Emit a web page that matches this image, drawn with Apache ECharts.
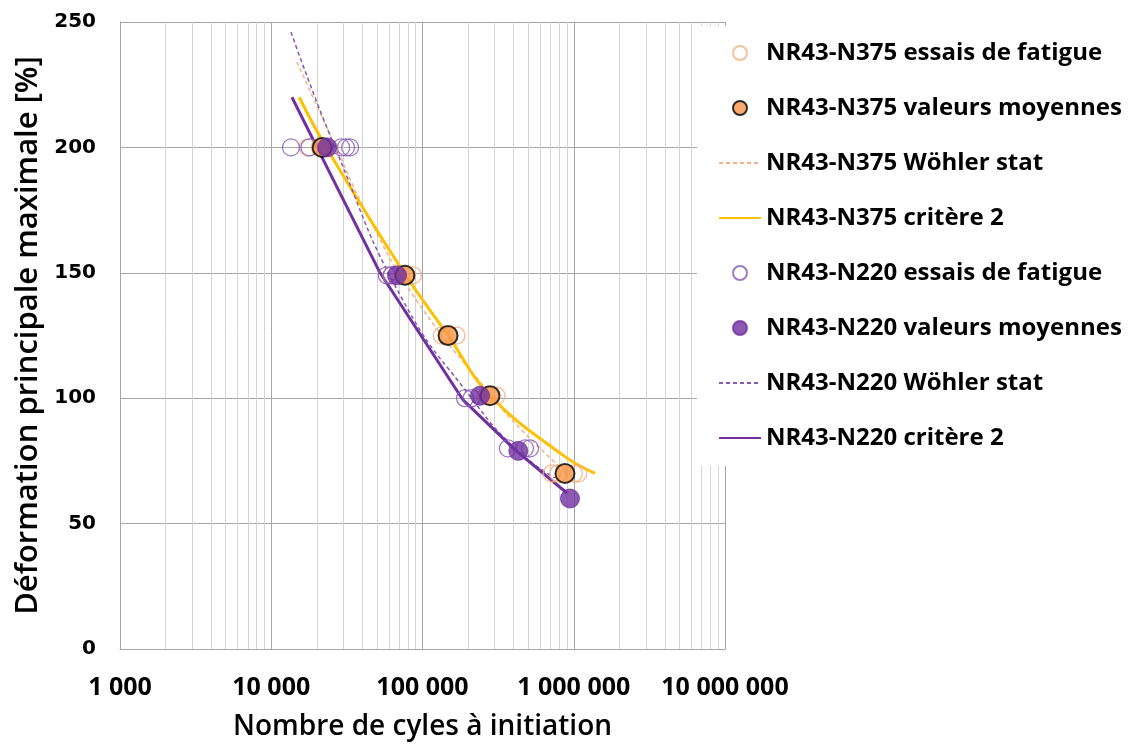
<!DOCTYPE html>
<html>
<head>
<meta charset="utf-8">
<script src="https://cdn.jsdelivr.net/npm/echarts@6/dist/echarts.min.js"></script>
<style>
html,body{margin:0;padding:0;background:#fff;}
#chart{width:1133px;height:744px;}
</style>
</head>
<body>
<div id="chart"></div>
<script>
// ---- data ----
const seriesNames = [
  'NR43-N375 essais de fatigue',
  'NR43-N375 valeurs moyennes',
  'NR43-N375 Wöhler stat',
  'NR43-N375 critère 2',
  'NR43-N220 essais de fatigue',
  'NR43-N220 valeurs moyennes',
  'NR43-N220 Wöhler stat',
  'NR43-N220 critère 2'
];
const xTickValues = [1000, 10000, 100000, 1000000, 10000000];
const yTickValues = [0, 50, 100, 150, 200, 250];
const minorMultipliers = [2, 3, 4, 5, 6, 7, 8, 9];

const n375TestN = [17500, 21000, 24000, 62500, 78600, 86500, 134000, 150000, 168000, 265000, 309000, 715000, 790000, 1000000, 1070000];
const n375TestE = [200, 200, 200, 149, 149, 149, 125, 125, 125, 101, 101, 70, 70, 70, 70];
const n375MeanN = [21700, 76500, 147500, 279500, 875000];
const n375MeanE = [200, 149, 125, 101, 70];
const n375WohlerN = [14800, 26800, 45000, 91400, 294500, 441000, 875000];
const n375WohlerE = [234, 200, 171, 139, 100, 88, 70.6];
const n375CritN = [15300, 23100, 75500, 147800, 279500, 875000, 1382000];
const n375CritE = [220, 200, 150, 125, 101, 76.7, 70];

const n220TestN = [13500, 17900, 29000, 31200, 33200, 58000, 62600, 191000, 211000, 367000, 476000, 514000];
const n220TestE = [200, 200, 200, 200, 200, 149, 149, 100, 100, 80, 80, 80];
const n220MeanN = [23400, 67800, 240000, 430000, 944000];
const n220MeanE = [200, 149, 101, 79, 60];
const n220WohlerN = [13500, 26400, 74300, 211000, 420000, 751000];
const n220WohlerE = [246, 200, 139, 100, 79.4, 68.2];
const n220CritN = [13700, 20070, 52400, 185300, 409000, 901000];
const n220CritE = [220, 200, 150, 99.3, 79.4, 62.2];

// ---- build ----
const pairs = (xs, ys) => xs.map((x, i) => [x, ys[i]]);
const minorTicks = [];
xTickValues.slice(0, -1).forEach(d => minorMultipliers.forEach(m => minorTicks.push(d * m)));

const ORANGE_LIGHT = '#f4b183';
const ORANGE = '#f79646';
const GOLD = '#ffc000';
const PURPLE = '#7030a0';
const PURPLE_LIGHT = '#8459b4';

const fmtThousands = v => String(Math.round(v)).replace(/\B(?=(\d{3})+(?!\d))/g, ' ');
const noDot = {opacity: 0};

const chart = echarts.init(document.getElementById('chart'), null, {renderer: 'canvas'});
chart.setOption({
  animation: false,
  backgroundColor: '#fff',
  grid: {left: 120, top: 22, right: 408, bottom: 95, containLabel: false, outerBoundsMode: 'none'},
  xAxis: {
    type: 'log', logBase: 10, min: xTickValues[0], max: xTickValues[xTickValues.length - 1],
    name: 'Nombre de cyles à initiation', nameLocation: 'middle', nameGap: 64,
    nameTextStyle: {fontFamily: 'Open Sans', fontWeight: 600, fontSize: 28, color: '#000'},
    axisLine: {show: true, lineStyle: {color: '#a6a6a6', width: 1}},
    axisTick: {show: false},
    axisLabel: {
      margin: 26, color: '#000', fontFamily: 'Open Sans', fontWeight: 'bold', fontSize: 25,
      formatter: fmtThousands, showMinLabel: true, showMaxLabel: true
    },
    splitLine: {show: true, lineStyle: {color: '#a6a6a6', width: 1}},
    minorTick: {show: false}, minorSplitLine: {show: false}
  },
  yAxis: {
    type: 'value', min: yTickValues[0], max: yTickValues[yTickValues.length - 1], interval: 50,
    name: 'Déformation principale maximale [%]', nameLocation: 'middle', nameGap: 67,
    nameTextStyle: {fontFamily: 'Open Sans', fontWeight: 600, fontSize: 31, color: '#000'},
    axisLine: {show: true, lineStyle: {color: '#a6a6a6', width: 1}},
    axisTick: {show: false},
    axisLabel: {margin: 24, color: '#000', fontFamily: 'DejaVu Sans', fontWeight: 'bold', fontSize: 20},
    splitLine: {show: true, lineStyle: {color: '#a6a6a6', width: 1}}
  },
  legend: {
    orient: 'vertical', left: 697, top: 26,
    padding: [14, 4, 15, 21],
    backgroundColor: '#fff',
    itemWidth: 42, itemHeight: 14, itemGap: 29,
    textStyle: {fontFamily: 'Open Sans', fontWeight: 'bold', fontSize: 24, color: '#000', lineHeight: 26},
    selectedMode: false,
    data: [
      {name: seriesNames[0], icon: 'circle'},
      {name: seriesNames[1], icon: 'circle'},
      {name: seriesNames[2], itemStyle: noDot},
      {name: seriesNames[3], itemStyle: noDot},
      {name: seriesNames[4], icon: 'circle'},
      {name: seriesNames[5], icon: 'circle'},
      {name: seriesNames[6], itemStyle: noDot},
      {name: seriesNames[7], itemStyle: noDot}
    ]
  },
  series: [
    {
      name: '__minorgrid', type: 'scatter', data: [], silent: true, z: 1,
      markLine: {
        silent: true, z: 1, symbol: ['none', 'none'], animation: false,
        label: {show: false},
        lineStyle: {color: '#d4d4d4', width: 1, type: 'solid'},
        emphasis: {disabled: true},
        data: minorTicks.map(v => ({xAxis: v}))
      }
    },
    {
      name: seriesNames[0], type: 'scatter', z: 3, symbol: 'circle', symbolSize: 17,
      itemStyle: {color: 'rgba(255,255,255,0)', borderColor: ORANGE_LIGHT, borderWidth: 1.5},
      data: pairs(n375TestN, n375TestE)
    },
    {
      name: seriesNames[1], type: 'scatter', z: 4, symbol: 'circle', symbolSize: 19,
      itemStyle: {color: ORANGE, borderColor: '#000', borderWidth: 2},
      data: pairs(n375MeanN, n375MeanE)
    },
    {
      name: seriesNames[2], type: 'line', z: 2, symbol: 'none', smooth: true,
      lineStyle: {color: ORANGE_LIGHT, width: 1.5, type: [4, 3]},
      itemStyle: {color: ORANGE_LIGHT},
      data: pairs(n375WohlerN, n375WohlerE)
    },
    {
      name: seriesNames[3], type: 'line', z: 2, symbol: 'none', smooth: 0.4,
      lineStyle: {color: GOLD, width: 3},
      itemStyle: {color: GOLD},
      data: pairs(n375CritN, n375CritE)
    },
    {
      name: seriesNames[4], type: 'scatter', z: 3, symbol: 'circle', symbolSize: 17,
      itemStyle: {color: 'rgba(255,255,255,0)', borderColor: PURPLE_LIGHT, borderWidth: 1.3},
      data: pairs(n220TestN, n220TestE)
    },
    {
      name: seriesNames[5], type: 'scatter', z: 4, symbol: 'circle', symbolSize: 19,
      itemStyle: {color: PURPLE, borderColor: PURPLE, borderWidth: 1},
      data: pairs(n220MeanN, n220MeanE)
    },
    {
      name: seriesNames[6], type: 'line', z: 2, symbol: 'none', smooth: true,
      lineStyle: {color: PURPLE_LIGHT, width: 1.5, type: [4, 3]},
      itemStyle: {color: PURPLE_LIGHT},
      data: pairs(n220WohlerN, n220WohlerE)
    },
    {
      name: seriesNames[7], type: 'line', z: 2, symbol: 'none', smooth: false,
      lineStyle: {color: PURPLE, width: 3},
      itemStyle: {color: PURPLE},
      data: pairs(n220CritN, n220CritE)
    }
  ]
});
</script>
</body>
</html>
